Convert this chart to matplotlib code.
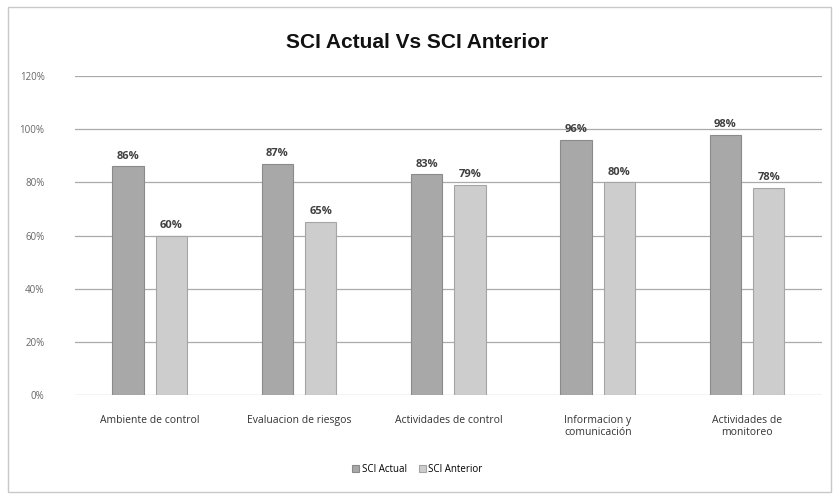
import matplotlib.pyplot as plt
import matplotlib.patches as mpatches
import numpy as np

categories = ['Ambiente de control', 'Evaluacion de riesgos', 'Actividades de control',
              'Informacion y\ncomunicación', 'Actividades de\nmonitoreo']
actual = [86, 87, 83, 96, 98]
anterior = [60, 65, 79, 80, 78]
yticks = [0, 20, 40, 60, 80, 100, 120]

fig = plt.figure(figsize=(8.35, 4.97), dpi=100)
ax = fig.add_axes([0.09, 0.205, 0.894, 0.642])

# outer chart border
fig.patches.append(mpatches.Rectangle((0.01, 0.01), 0.985, 0.975, transform=fig.transFigure,
                                      fill=False, edgecolor='#c8c8c8', linewidth=1.0))

x = np.arange(len(categories))
w = 0.21
b1 = ax.bar(x - 0.145, actual, w, color='#a8a8a8', edgecolor='#8a8a8a', linewidth=0.8,
            label='SCI Actual', zorder=3)
b2 = ax.bar(x + 0.145, anterior, w, color='#cdcdcd', edgecolor='#a5a5a5', linewidth=0.8,
            label='SCI Anterior', zorder=3)

for bars in (b1, b2):
    for r in bars:
        ax.text(r.get_x() + r.get_width() / 2, r.get_height() + 1.8, f'{r.get_height():.0f}%',
                ha='center', va='bottom', fontsize=8, fontweight='bold', color='#404040',
                family='Open Sans')

ax.set_xlim(-0.5, len(categories) - 0.5)
ax.set_ylim(0, 120)
ax.set_yticks(yticks)
ax.set_yticklabels([f'{t}%' for t in yticks], fontsize=7, color='#666666', family='Open Sans')
ax.set_xticks(x)
ax.set_xticklabels(categories, fontsize=7.5, color='#333333', family='Open Sans')
ax.tick_params(axis='both', length=0, pad=14)
ax.tick_params(axis='y', pad=22)
ax.yaxis.grid(True, color='#aaaaaa', linewidth=0.9, zorder=0)
ax.set_axisbelow(True)
for s in ax.spines.values():
    s.set_visible(False)

fig.text(0.5, 0.915, 'SCI Actual Vs SCI Anterior', ha='center', va='center', fontsize=15,
         fontweight='bold', family='Liberation Sans', color='#111111')

fig.legend(handles=[b1, b2], loc='center', bbox_to_anchor=(0.5, 0.055), ncol=2, frameon=False,
           handlelength=0.7, handleheight=0.7, handletextpad=0.3, columnspacing=1.2,
           prop={'family': 'Open Sans', 'size': 7})

fig.savefig('out.png', dpi=100)
